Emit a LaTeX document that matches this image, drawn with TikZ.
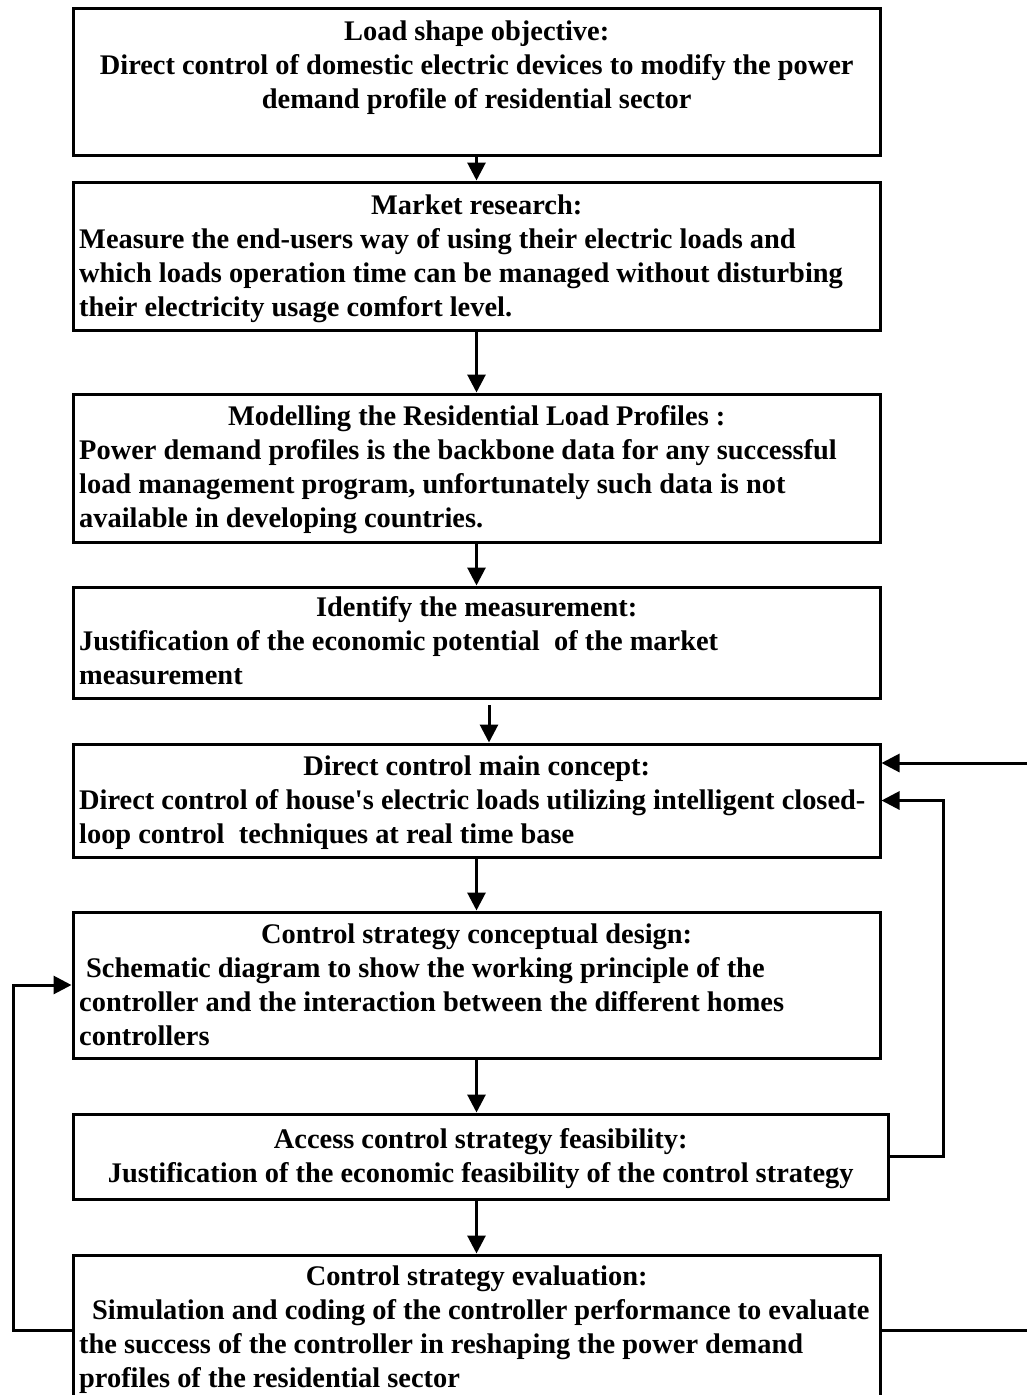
\documentclass[tikz,border=0pt]{standalone}
\usepackage{fontspec}
\setmainfont{Liberation Serif}
\newfontfamily\apfont{Liberation Serif}
\usetikzlibrary{arrows.meta}
\newcommand\cl[2][795pt]{\makebox[#1][c]{#2}}
\newcommand\ap{{\apfont\bfseries\char"27}}
\begin{document}
\begin{tikzpicture}[x=1pt,y=-1pt,
  box/.style={draw, line width=3pt, minimum width=807pt, inner sep=0pt},
  txt/.style={anchor=base west, inner sep=0pt, font=\bfseries\fontsize{28.4}{34}\selectfont},
  arr/.style={line width=3pt, -{Triangle[length=18pt,width=18pt]}},
  ln/.style={line width=3pt}]
\clip (0,0) rectangle (1027,1395);
\fill[white] (0,0) rectangle (1027,1395);

% boxes
\node[box, minimum height=147pt] (b1) at (476.5,81.5) {};
\node[box, minimum height=148pt] (b2) at (476.5,256) {};
\node[box, minimum height=148pt] (b3) at (476.5,468) {};
\node[box, minimum height=111pt] (b4) at (476.5,642.5) {};
\node[box, minimum height=113pt] (b5) at (476.5,800.5) {};
\node[box, minimum height=146pt] (b6) at (476.5,985) {};
\node[box, minimum height=85pt, minimum width=815pt] (b7) at (480.5,1156.5) {};
\node[box, minimum height=165pt] (b8) at (476.5,1337.5) {};

% texts
\node[txt] (t1) at (77,40) {\parbox[t]{900pt}{\raggedright
  \cl[799pt]{Load shape objective:}\\
  \cl[799pt]{Direct control of domestic electric devices to modify the power}\\
  \cl[799pt]{demand profile of residential sector}}};
\node[txt] (t2) at (79,214) {\parbox[t]{900pt}{\raggedright
  \cl{Market research:}\\
  Measure the end-users way of using their electric loads and\\
  which loads operation time can be managed without disturbing\\
  their electricity usage comfort level.}};
\node[txt] (t3) at (79,425) {\parbox[t]{900pt}{\raggedright
  \cl{Modelling the Residential Load Profiles :}\\
  Power demand profiles is the backbone data for any successful\\
  load management program, unfortunately such data is not\\
  available in developing countries.}};
\node[txt] (t4) at (79,616) {\parbox[t]{900pt}{\raggedright
  \cl{Identify the measurement:}\\
  Justification of the economic potential\ \ of the market\\
  measurement}};
\node[txt] (t5) at (79,775) {\parbox[t]{900pt}{\raggedright
  \cl{Direct control main concept:}\\
  Direct control of house\ap s electric loads utilizing intelligent closed-\\
  loop control\ \ techniques at real time base}};
\node[txt] (t6) at (79,943) {\parbox[t]{900pt}{\raggedright
  \cl{Control strategy conceptual design:}\\
  \hspace*{7pt}Schematic diagram to show the working principle of the\\
  controller and the interaction between the different homes\\
  controllers}};
\node[txt] (t7) at (79,1148) {\parbox[t]{900pt}{\raggedright
  \cl[803pt]{Access control strategy feasibility:}\\
  \cl[803pt]{Justification of the economic feasibility of the control strategy}}};
\node[txt] (t8) at (79,1285) {\parbox[t]{900pt}{\raggedright
  \cl{Control strategy evaluation:}\\
  \hspace*{13pt}Simulation and coding of the controller performance to evaluate\\
  the success of the controller in reshaping the power demand\\
  profiles of the residential sector}};

% main flow arrows
\draw[arr] (b1.south) -- (b2.north);
\draw[arr] (b2.south) -- (b3.north);
\draw[arr] (b3.south) -- (b4.north);
\coordinate (s45) at (489,705);
\draw[arr] (s45) -- (s45 |- b5.north);
\draw[arr] (b5.south) -- (b6.north);
\draw[arr] (b6.south) -- (b6.south |- b7.north);
\draw[arr] (b8.north |- b7.south) -- (b8.north);

% right feedback
\coordinate (rin) at (1035,763);
\draw[arr] (rin) -- (b5.east |- rin);
\coordinate (rloop) at (943,0);
\draw[arr] (b7.east) -| (rloop |- b5.east) -- (b5.east);
\coordinate (rout) at (1035,1330);
\draw[ln] (rout -| b8.east) -- (rout);

% left feedback
\coordinate (lloop) at (13,1330);
\draw[arr] (lloop -| b8.west) -- (lloop) |- (b6.west);
\end{tikzpicture}
\end{document}
